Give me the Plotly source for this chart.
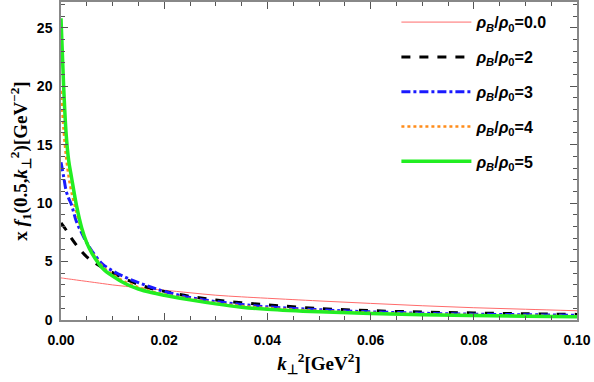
import plotly.graph_objects as go

# k_perp^2 sample points (GeV^2)
kt2 = [0, 0.0005, 0.001, 0.0015, 0.002, 0.003, 0.004, 0.005, 0.006, 0.008,
       0.01, 0.0125, 0.015, 0.0175, 0.02, 0.025, 0.03, 0.035, 0.04, 0.05,
       0.06, 0.07, 0.08, 0.09, 0.1]

# values
rho_00 = [3.6, 3.57, 3.54, 3.51, 3.48, 3.42, 3.36, 3.3, 3.24, 3.12,
          3.0, 2.88, 2.76, 2.65, 2.55, 2.33, 2.12, 1.98, 1.86, 1.63,
          1.42, 1.22, 1.05, 0.92, 0.79]
rho_2 = [8.3, 8.0, 7.7, 7.35, 7.0, 6.4, 5.85, 5.4, 5.05, 4.5,
         4.05, 3.5, 3.05, 2.7, 2.45, 2.02, 1.71, 1.48, 1.3, 0.98,
         0.8, 0.68, 0.6, 0.53, 0.48]
rho_3 = [13.5, 12.3, 11.05, 10.4, 9.9, 8.4, 7.45, 6.6, 5.9, 4.8,
         4.2, 3.65, 3.2, 2.8, 2.45, 1.92, 1.58, 1.33, 1.13, 0.88,
         0.7, 0.58, 0.5, 0.45, 0.41]
rho_4 = [19.6, 16.3, 13.9, 12.2, 11.0, 9.2, 7.7, 6.6, 5.8, 4.6,
         3.9, 3.25, 2.8, 2.45, 2.2, 1.8, 1.45, 1.2, 1.02, 0.78,
         0.62, 0.51, 0.43, 0.37, 0.32]
rho_5 = [25.8, 20.1, 15.9, 13.6, 12.3, 9.8, 7.9, 6.6, 5.7, 4.45,
         3.75, 3.1, 2.65, 2.35, 2.12, 1.72, 1.38, 1.1, 0.92, 0.7,
         0.55, 0.45, 0.38, 0.32, 0.27]

labels = ['0.0', '2', '3', '4', '5']
series = [rho_00, rho_2, rho_3, rho_4, rho_5]
styles = [
    dict(color='#ff6b6b', width=1, dash='solid'),
    dict(color='black', width=3, dash='dash'),
    dict(color='#1a1aff', width=3, dash='dashdot'),
    dict(color='#ff8c1a', width=2.5, dash='dot'),
    dict(color='#22ee22', width=3.5, dash='solid'),
]

fig = go.Figure()
for i, (lab, ys, st) in enumerate(zip(labels, series, styles)):
    fig.add_trace(go.Scatter(
        x=kt2, y=ys, mode='lines', line=dict(shape='spline', **st),
        name='<b><i>ρ</i><sub><i>B</i></sub>/<i>ρ</i><sub>0</sub>=' + lab + '</b>',
        legendgroup=str(i)))

axis_common = dict(
    showline=True, linecolor='#888888', linewidth=1.5, mirror='ticks',
    ticks='inside', ticklen=7, tickcolor='#555555', tickwidth=1,
    showgrid=False, zeroline=False, automargin=False,
    tickfont=dict(family='Arial', size=14, color='black', weight='bold'),
)

fig.update_xaxes(
    range=[0, 0.1], tickvals=[0, 0.02, 0.04, 0.06, 0.08, 0.1],
    ticktext=['0.00', '0.02', '0.04', '0.06', '0.08', '0.10'],
    ticklabelstandoff=6,
    minor=dict(dtick=0.005, ticks='inside', ticklen=4, tickcolor='#555555'),
    title=dict(text='<b><i>k</i><sub>⊥</sub><sup>2</sup>[GeV<sup>2</sup>]</b>',
               font=dict(family='Liberation Serif', size=19, color='black'),
               standoff=10),
    **axis_common)
fig.update_yaxes(
    range=[0, 27.2], tickvals=[0, 5, 10, 15, 20, 25],
    ticklabelstandoff=4,
    minor=dict(dtick=1, ticks='inside', ticklen=4, tickcolor='#555555'),
    title=dict(text='<b>x <i>f</i><sub>1</sub>(0.5,<i>k</i><sub>⊥</sub><sup>2</sup>)[GeV<sup>−2</sup>]</b>',
               font=dict(family='Liberation Serif', size=19, color='black'),
               standoff=4),
    **axis_common)

fig.update_layout(
    width=594, height=382,
    margin=dict(l=61, r=17, t=2, b=62),
    plot_bgcolor='white', paper_bgcolor='white',
    showlegend=True,
    legend=dict(x=0.65, y=0.99, xanchor='left', yanchor='top',
                bgcolor='rgba(0,0,0,0)', traceorder='grouped',
                tracegroupgap=11, itemwidth=70,
                font=dict(family='Arial', size=16, color='black')),
)

fig.write_html("out.html", config={'displayModeBar': False},
               post_script="document.body.style.margin='0px';")
